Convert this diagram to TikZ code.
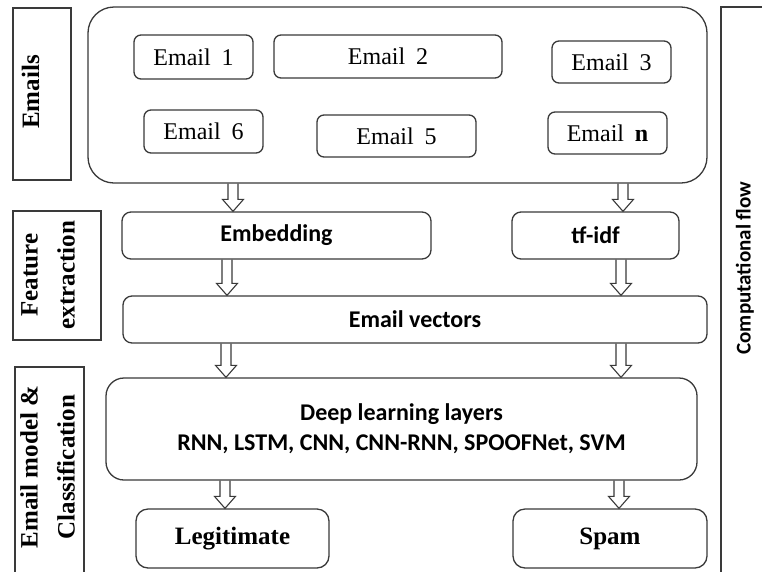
\documentclass[tikz,border=0pt]{standalone}
\usepackage{fontspec}
\setmainfont{Liberation Serif}
\newfontfamily\carlito{Carlito}
\usetikzlibrary{calc}
\definecolor{boxgray}{HTML}{3A3A3A}
\newcommand\blockarr[2]{%
  \draw[arrline] let \p1=(#1), \p2=(#2) in
    (\x1-5pt,\y1) -- (\x1-5pt,\y2+12pt) -- (\x1-10.5pt,\y2+12pt) -- (\x1,\y2)
    -- (\x1+10.5pt,\y2+12pt) -- (\x1+5pt,\y2+12pt) -- (\x1+5pt,\y1);}
\begin{document}
\begin{tikzpicture}[x=1pt,y=-1pt,
  box/.style={draw=boxgray, line width=1.3pt, rounded corners=#1, inner sep=0pt, fill=white},
  box/.default=9pt,
  lab/.style={draw=boxgray, line width=1.3pt, inner sep=0pt},
  labtxt/.style={rotate=90, inner sep=0pt, font=\bfseries\fontsize{25}{37}\selectfont},
  ebox/.style={box=7pt, font=\fontsize{24}{28}\selectfont},
  sbox/.style={box=9pt, font=\carlito\bfseries\fontsize{24}{30}\selectfont},
  obox/.style={box=12pt, font=\bfseries\fontsize{25}{30}\selectfont},
  arrline/.style={draw=boxgray, line width=1.1pt, line join=miter}]
\useasboundingbox (0,0) rectangle (762,571);
\clip (0,0) rectangle (762,571);
\fill[white] (0,0) rectangle (762,571);

% left and right labels
\node[lab, minimum width=58, minimum height=172] (L1) at (42,94) {};
\node[labtxt] (T1) at (30.5,92) {Emails};
\node[lab, minimum width=88, minimum height=129] (L2) at (57,275.5) {};
\node[labtxt, align=center] (T2) at (48,275) {Feature\\extraction};
\node[lab, minimum width=69, minimum height=218] (L3) at (49.5,476) {};
\node[labtxt, align=center] (T3) at (47.5,467) {Email model \&\\Classification};
\node[lab, minimum width=69, minimum height=583] (R) at (755.5,298.5) {};
\node[rotate=90, inner sep=0pt, font=\carlito\bfseries\fontsize{21}{24}\selectfont] (RT) at (745,268) {Computational flow};

% emails
\node[box=26pt, minimum width=619, minimum height=176] (big) at (397.5,95) {};
\node[ebox, minimum width=119, minimum height=44] (e1) at (193.5,57) {Email\hspace{0.45em}1};
\node[ebox, minimum width=228, minimum height=43] (e2) at (388,56.5) {Email\hspace{0.45em}2};
\node[ebox, minimum width=119, minimum height=42] (e3) at (611.5,62) {Email\hspace{0.45em}3};
\node[ebox, minimum width=119, minimum height=43] (e6) at (203.5,131.5) {Email\hspace{0.45em}6};
\node[ebox, minimum width=159, minimum height=42] (e5) at (396.5,136) {Email\hspace{0.45em}5};
\node[ebox, minimum width=119, minimum height=42] (en) at (607.5,133) {Email\hspace{0.45em}\textbf{n}};

% feature extraction
\node[sbox, minimum width=309, minimum height=47] (emb) at (276.5,235.5) {Embedding};
\node[sbox, minimum width=167, minimum height=47] (tfidf) at (595.5,235.5) {tf-idf};
\node[sbox, minimum width=584, minimum height=47] (vec) at (415,319.5) {Email vectors};

% model
\node[sbox, box=18pt, align=center, minimum width=591, minimum height=102] (dl) at (401.5,429)
  {Deep learning layers\\RNN, LSTM, CNN, CNN-RNN, SPOOFNet, SVM};
\node[obox, minimum width=193, minimum height=59] (legit) at (232.5,538.5) {Legitimate};
\node[obox, minimum width=194, minimum height=59] (spam) at (610,538.5) {Spam};

% arrows
\coordinate (xa) at (233,0);
\coordinate (xb) at (623,0);
\coordinate (xc) at (227,0);
\coordinate (xd) at (621,0);
\coordinate (xe) at (226,0);
\coordinate (xf) at (621,0);
\coordinate (xg) at (225,0);
\coordinate (xh) at (619,0);
\blockarr{xa |- big.south}{xa |- emb.north}
\blockarr{xb |- big.south}{xb |- tfidf.north}
\blockarr{xc |- emb.south}{xc |- vec.north}
\blockarr{xd |- tfidf.south}{xd |- vec.north}
\blockarr{xe |- vec.south}{xe |- dl.north}
\blockarr{xf |- vec.south}{xf |- dl.north}
\blockarr{xg |- dl.south}{xg |- legit.north}
\blockarr{xh |- dl.south}{xh |- spam.north}
\end{tikzpicture}
\end{document}
